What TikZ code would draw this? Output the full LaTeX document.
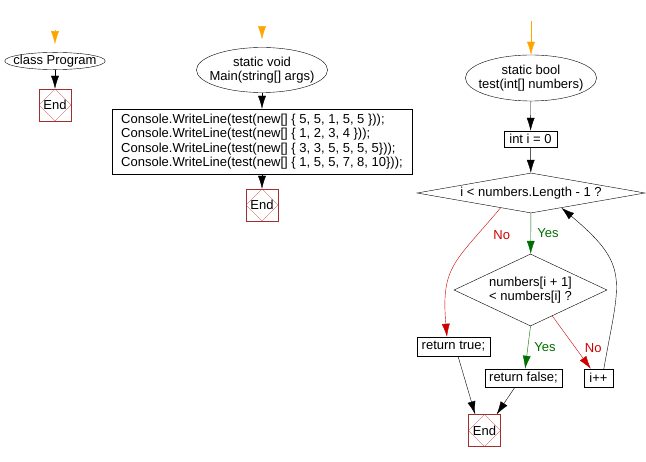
\documentclass[tikz,border=0pt]{standalone}
\usepackage{fontspec}
\setmainfont{Liberation Sans}
\usetikzlibrary{shapes.geometric,arrows.meta}
\definecolor{startorange}{RGB}{255,165,0}
\definecolor{nored}{RGB}{204,0,0}
\definecolor{yesgreen}{RGB}{0,110,0}
\definecolor{endframe}{RGB}{160,48,48}
\definecolor{enddiamond}{RGB}{200,50,50}

\begin{document}
\begin{tikzpicture}
[x=1pt,y=1pt,font=\fontsize{13}{14.5}\selectfont,
  termdecorate/.style={shape=ellipse,draw,thin,inner xsep=-6pt,inner ysep=0pt,align=center},
  boxdecorate/.style={shape=rectangle,draw,thin,inner sep=0pt},
  decidedecorate/.style={shape=diamond,draw,thin,inner sep=0pt,align=left},
  enddecorate/.style={shape=rectangle,draw=endframe,thin,minimum size=32pt,inner sep=0pt,
    path picture={\draw[enddiamond,very thin] (path picture bounding box.north)
      -- (path picture bounding box.east) -- (path picture bounding box.south)
      -- (path picture bounding box.west) -- cycle;}},
  arrowdecorate/.style={-{Latex[length=13pt,width=8pt]},thin},
  startdecorate/.style={arrowdecorate,draw=startorange}]
\useasboundingbox (0,0) rectangle (646,-462);
%% nodes or vertices
\node (class) at (55,-61) [termdecorate,minimum width=100pt,minimum height=17pt] {class Program};
\node (main) at (262,-70) [termdecorate,minimum width=129pt,minimum height=45pt]
  {static void\\Main(string[] args)};
\node (calls) at (262,-141.5) [boxdecorate,minimum width=300pt,minimum height=65pt,align=left]
  {Console.WriteLine(test(new[] \{ 5, 5, 1, 5, 5 \}));\\
   Console.WriteLine(test(new[] \{ 1, 2, 3, 4 \}));\\
   Console.WriteLine(test(new[] \{ 3, 3, 5, 5, 5, 5\}));\\
   Console.WriteLine(test(new[] \{ 1, 5, 5, 7, 8, 10\}));};
\node (test) at (531,-78) [termdecorate,minimum width=130pt,minimum height=46pt]
  {static bool\\test(int[] numbers)};
\node (init) at (530.5,-139) [boxdecorate,minimum width=53pt,minimum height=16pt] {int i = 0};
\node (loop) at (531,-193) [decidedecorate,aspect=5.7,minimum width=228pt,minimum height=40pt]
  {i < numbers.Length - 1 ?};
\node (check) at (530.5,-290) [decidedecorate,aspect=2.1,minimum width=153pt,minimum height=72pt]
  {numbers[i + 1]\\< numbers[i] ?};
\node (rtrue) at (453.5,-346.5) [boxdecorate,minimum width=73pt,minimum height=19pt] {return true;};
\node (rfalse) at (523.5,-378) [boxdecorate,minimum width=77pt,minimum height=18pt] {return false;};
\node (incr) at (598.5,-378) [boxdecorate,minimum width=29pt,minimum height=18pt] {i++};
\foreach \nodename/\x/\y in {end1/55/-105, end2/262/-205, end3/484.5/-430.5}
{
  \node (\nodename) at (\x,\y) [enddecorate] {End};
}
%% start arrows
\foreach \startname/\nodename/\x/\y/\gap in {s1/class/55/-30/8pt, s2/main/262/-30/8pt, s3/test/531/-21/0pt}
{
  \coordinate (\startname) at (\x,\y);
  \draw[startdecorate,shorten >=\gap] (\startname) -- (\nodename);
}
%% edges or lines
\path
\foreach \startnode/\endnode in {class/end1, main/calls, calls/end2, test/init, init/loop} {
  (\startnode) edge[arrowdecorate] (\endnode)
};
\path (loop) edge[arrowdecorate,draw=yesgreen]
    node[midway,right=3pt,text=yesgreen] {Yes} (check)
  (loop.206) edge[arrowdecorate,draw=nored,out=230,in=95,looseness=1.3]
    node[pos=0.2,right=13pt,text=nored] {No} (rtrue.124)
  (check.south) edge[arrowdecorate,draw=yesgreen]
    node[midway,right=3pt,text=yesgreen] {Yes} (rfalse.80)
  (check.-50) edge[arrowdecorate,draw=nored]
    node[pos=0.6,right=6pt,text=nored] {No} (incr.130)
  (incr.60) edge[arrowdecorate,out=80,in=-40,looseness=1.4] (loop.-26)
  (rtrue.-65) edge[arrowdecorate] (end3.120)
  (rfalse.-133) edge[arrowdecorate] (end3.53);
\end{tikzpicture}
\end{document}
